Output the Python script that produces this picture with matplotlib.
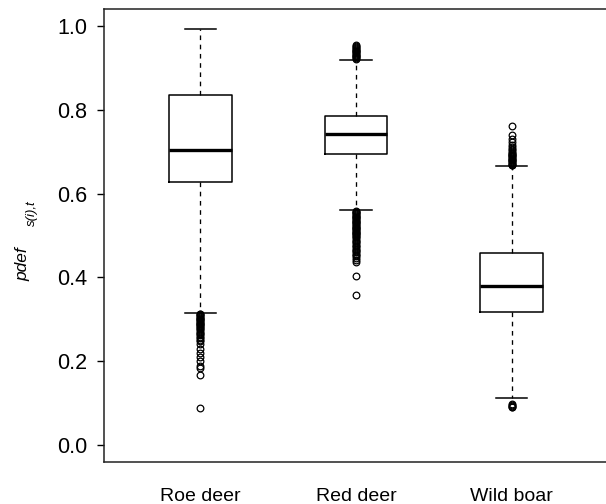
import matplotlib
matplotlib.use("Agg")
import matplotlib.pyplot as plt

plt.rcParams['font.family'] = ['Liberation Sans', 'DejaVu Sans']

categories = ["Roe deer", "Red deer", "Wild boar"]
medians = [0.703, 0.741, 0.380]
q1s = [0.627, 0.695, 0.318]
q3s = [0.834, 0.786, 0.459]
whis_lo = [0.316, 0.561, 0.113]
whis_hi = [0.992, 0.919, 0.666]

fliers_roe = [0.314, 0.312, 0.310, 0.308, 0.306, 0.304, 0.302, 0.300, 0.298,
              0.296, 0.294, 0.292, 0.290, 0.288, 0.286, 0.284, 0.282, 0.280,
              0.277, 0.274, 0.271, 0.268, 0.265, 0.262, 0.259, 0.256, 0.252,
              0.248, 0.241, 0.229, 0.221, 0.211, 0.201, 0.189, 0.183, 0.167,
              0.088]
fliers_red = [0.921, 0.923, 0.925, 0.927, 0.929, 0.931, 0.933, 0.935, 0.937,
              0.939, 0.941, 0.943, 0.945, 0.947, 0.949, 0.951, 0.953,
              0.559, 0.557, 0.555, 0.553, 0.551, 0.549, 0.547, 0.545, 0.543,
              0.541, 0.539, 0.537, 0.535, 0.533, 0.531, 0.529, 0.527, 0.525,
              0.523, 0.521, 0.519, 0.517, 0.515, 0.513, 0.511, 0.509, 0.507,
              0.505, 0.503, 0.501, 0.499, 0.496, 0.493, 0.490, 0.487, 0.484,
              0.481, 0.478, 0.475, 0.472, 0.469, 0.466, 0.463, 0.460, 0.457,
              0.454, 0.450, 0.446, 0.442, 0.438, 0.403, 0.357]
fliers_wild = [0.667, 0.669, 0.671, 0.673, 0.675, 0.677, 0.679, 0.681, 0.683,
               0.685, 0.687, 0.689, 0.691, 0.693, 0.695, 0.697, 0.700, 0.703,
               0.706, 0.710, 0.716, 0.722, 0.730, 0.740, 0.762,
               0.098, 0.096, 0.094, 0.092, 0.090]
fliers = [fliers_roe, fliers_red, fliers_wild]

yticks = [0.0, 0.2, 0.4, 0.6, 0.8, 1.0]
ylabel_main = "pdef"
ylabel_sub = "s(i),t"

stats = []
for i, name in enumerate(categories):
    stats.append(dict(label=name, med=medians[i], q1=q1s[i], q3=q3s[i],
                      whislo=whis_lo[i], whishi=whis_hi[i], fliers=fliers[i]))

fig = plt.figure(figsize=(6.06, 5.04), dpi=100)
ax = fig.add_axes([104/606, 1 - 462/504, 504/606, 453/504])

ax.bxp(stats, positions=[1, 2, 3], widths=0.4, patch_artist=False,
       boxprops=dict(color='black', linewidth=1.1),
       medianprops=dict(color='black', linewidth=2.4, solid_capstyle='butt'),
       whiskerprops=dict(color='black', linewidth=0.95, linestyle=(0, (3.5, 3.5))),
       capprops=dict(color='black', linewidth=1.1),
       capwidths=0.2,
       flierprops=dict(marker='o', markersize=4.8, markerfacecolor='none',
                       markeredgecolor='black', markeredgewidth=0.9))

ax.set_xlim(0.38, 3.62)
ax.set_ylim(-0.04, 1.04)
ax.set_yticks(yticks)
ax.set_yticklabels([f"{v:.1f}" for v in yticks])
ax.set_xticks([1, 2, 3])
ax.set_xticklabels(categories)
ax.tick_params(axis='y', direction='out', length=5, width=1.0, pad=7, labelsize=15.5)
ax.tick_params(axis='x', length=0, pad=19, labelsize=14)
for sp in ax.spines.values():
    sp.set_linewidth(1.1)
    sp.set_color('#222222')

fig.text(23/606, 1 - 247/504, ylabel_main, rotation=90, ha='center', va='top',
         fontsize=12.5, style='italic', family='Liberation Sans')
fig.text(32/606, 1 - 200/504, ylabel_sub, rotation=90, ha='center', va='top',
         fontsize=9.5, style='italic', family='Liberation Sans')

fig.savefig("out.png", dpi=100)
